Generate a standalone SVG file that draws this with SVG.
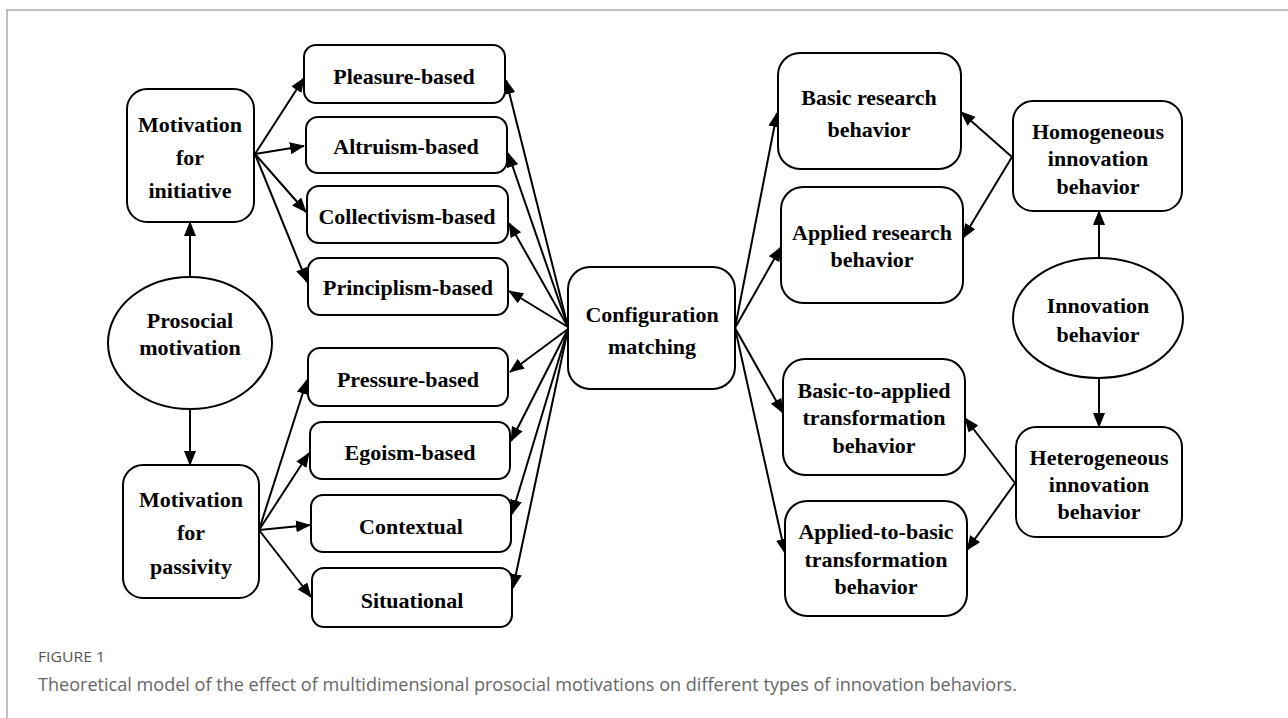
<svg xmlns="http://www.w3.org/2000/svg" width="1288" height="718" viewBox="0 0 1288 718">
<style>
.box{fill:#fff;stroke:#000;stroke-width:2}
.t{font-family:"Liberation Serif","Times New Roman",serif;font-weight:bold;font-size:22px;fill:#000;text-anchor:middle}
.c{stroke:#000;stroke-width:2;fill:none;marker-end:url(#ah)}
.cap{font-family:"Open Sans","Noto Sans",sans-serif}
</style>
<defs>
<marker id="ah" markerUnits="userSpaceOnUse" markerWidth="16" markerHeight="14" refX="14" refY="6" orient="auto">
<path d="M0,0 L15,6 L0,12 z" fill="#000"/>
</marker>
</defs>
<rect width="1288" height="718" fill="#fff"/>
<polyline points="7,718 7,10 1288,10" fill="none" stroke="#aaa" stroke-width="1.5"/>

<g id="connectors">
<line class="c" x1="190" y1="277" x2="190" y2="222"/>
<line class="c" x1="190" y1="409" x2="190" y2="465"/>
<line class="c" x1="255" y1="154" x2="304" y2="78"/>
<line class="c" x1="255" y1="154" x2="304" y2="146"/>
<line class="c" x1="255" y1="154" x2="306" y2="212"/>
<line class="c" x1="255" y1="154" x2="307" y2="282"/>
<line class="c" x1="259" y1="530" x2="307" y2="380"/>
<line class="c" x1="259" y1="530" x2="309" y2="453"/>
<line class="c" x1="259" y1="530" x2="310" y2="525"/>
<line class="c" x1="259" y1="530" x2="311" y2="597"/>
<line class="c" x1="568" y1="327" x2="506" y2="80"/>
<line class="c" x1="568" y1="327" x2="508" y2="153"/>
<line class="c" x1="568" y1="327" x2="509" y2="223"/>
<line class="c" x1="568" y1="327" x2="509" y2="291"/>
<line class="c" x1="568" y1="329" x2="510" y2="372"/>
<line class="c" x1="568" y1="329" x2="511" y2="441"/>
<line class="c" x1="568" y1="329" x2="512" y2="514"/>
<line class="c" x1="568" y1="329" x2="513" y2="588"/>
<line class="c" x1="735" y1="328" x2="777" y2="113"/>
<line class="c" x1="735" y1="328" x2="781" y2="247"/>
<line class="c" x1="735" y1="328" x2="783" y2="413"/>
<line class="c" x1="735" y1="328" x2="785" y2="553"/>
<line class="c" x1="1099" y1="258" x2="1099" y2="211"/>
<line class="c" x1="1099" y1="378" x2="1099" y2="427"/>
<line class="c" x1="1012" y1="157" x2="961" y2="112"/>
<line class="c" x1="1012" y1="157" x2="963" y2="238"/>
<line class="c" x1="1015" y1="483" x2="965" y2="418"/>
<line class="c" x1="1015" y1="483" x2="967" y2="550"/>
</g>

<g id="prosocial">
<ellipse class="box" cx="190" cy="343" rx="82" ry="66"/>
<text class="t" x="190" y="328">Prosocial</text>
<text class="t" x="190" y="355">motivation</text>
</g>
<g id="initiative">
<rect class="box" x="127" y="89" width="127" height="133" rx="20"/>
<text class="t" x="190" y="132">Motivation</text>
<text class="t" x="190" y="165">for</text>
<text class="t" x="190" y="198">initiative</text>
</g>
<g id="passivity">
<rect class="box" x="123" y="465" width="136" height="133" rx="20"/>
<text class="t" x="191" y="507">Motivation</text>
<text class="t" x="191" y="540">for</text>
<text class="t" x="191" y="574">passivity</text>
</g>

<g id="pleasure"><rect class="box" x="304" y="45" width="201" height="58" rx="12"/><text class="t" x="404" y="84">Pleasure-based</text></g>
<g id="altruism"><rect class="box" x="306" y="117" width="201" height="56" rx="12"/><text class="t" x="406" y="154">Altruism-based</text></g>
<g id="collectivism"><rect class="box" x="307" y="186" width="201" height="57" rx="12"/><text class="t" x="407" y="224">Collectivism-based</text></g>
<g id="principlism"><rect class="box" x="308" y="258" width="200" height="57" rx="12"/><text class="t" x="408" y="295">Principlism-based</text></g>
<g id="pressure"><rect class="box" x="308" y="348" width="200" height="58" rx="12"/><text class="t" x="408" y="387">Pressure-based</text></g>
<g id="egoism"><rect class="box" x="310" y="422" width="200" height="57" rx="12"/><text class="t" x="410" y="460">Egoism-based</text></g>
<g id="contextual"><rect class="box" x="311" y="495" width="200" height="57" rx="12"/><text class="t" x="411" y="534">Contextual</text></g>
<g id="situational"><rect class="box" x="312" y="568" width="200" height="59" rx="12"/><text class="t" x="412" y="608">Situational</text></g>

<g id="configuration">
<rect class="box" x="568" y="267" width="167" height="122" rx="22"/>
<text class="t" x="652" y="322">Configuration</text>
<text class="t" x="652" y="354">matching</text>
</g>

<g id="basic-research">
<rect class="box" x="778" y="53" width="183" height="116" rx="22"/>
<text class="t" x="869" y="105">Basic research</text>
<text class="t" x="869" y="137">behavior</text>
</g>
<g id="applied-research">
<rect class="box" x="781" y="187" width="182" height="116" rx="22"/>
<text class="t" x="872" y="240">Applied research</text>
<text class="t" x="872" y="267">behavior</text>
</g>
<g id="basic-to-applied">
<rect class="box" x="783" y="359" width="182" height="116" rx="22"/>
<text class="t" x="874" y="398">Basic-to-applied</text>
<text class="t" x="874" y="425">transformation</text>
<text class="t" x="874" y="453">behavior</text>
</g>
<g id="applied-to-basic">
<rect class="box" x="785" y="501" width="182" height="115" rx="22"/>
<text class="t" x="876" y="539">Applied-to-basic</text>
<text class="t" x="876" y="567">transformation</text>
<text class="t" x="876" y="594">behavior</text>
</g>

<g id="homogeneous">
<rect class="box" x="1013" y="101" width="169" height="110" rx="20"/>
<text class="t" x="1098" y="139">Homogeneous</text>
<text class="t" x="1098" y="166">innovation</text>
<text class="t" x="1098" y="194">behavior</text>
</g>
<g id="innovation">
<ellipse class="box" cx="1098" cy="318" rx="85" ry="60"/>
<text class="t" x="1098" y="313">Innovation</text>
<text class="t" x="1098" y="342">behavior</text>
</g>
<g id="heterogeneous">
<rect class="box" x="1016" y="427" width="166" height="110" rx="20"/>
<text class="t" x="1099" y="465">Heterogeneous</text>
<text class="t" x="1099" y="492">innovation</text>
<text class="t" x="1099" y="519">behavior</text>
</g>

<g id="caption">
<text class="cap" x="38" y="662" font-size="14" fill="#555" textLength="67" lengthAdjust="spacingAndGlyphs">FIGURE 1</text>
<text class="cap" x="38" y="691" font-size="17.5" fill="#666" textLength="979" lengthAdjust="spacingAndGlyphs">Theoretical model of the effect of multidimensional prosocial motivations on different types of innovation behaviors.</text>
</g>
</svg>
